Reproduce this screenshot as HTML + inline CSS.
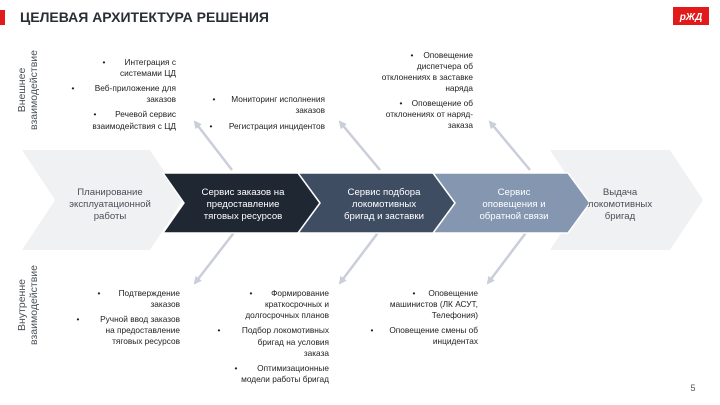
<!DOCTYPE html>
<html><head><meta charset="utf-8"><style>
html,body{margin:0;padding:0;background:#fff;}
svg{display:block;font-family:"Liberation Sans",sans-serif;}
</style></head><body>
<svg width="720" height="405" viewBox="0 0 720 405" xmlns="http://www.w3.org/2000/svg">
<defs>
<marker id="ah" markerWidth="8" markerHeight="8" refX="6" refY="4" orient="auto" markerUnits="userSpaceOnUse">
<path d="M0,0 L8,4 L0,8 Z" fill="#c9ced8"/>
</marker>
</defs>
<rect x="0" y="10" width="5" height="15" fill="#e21a1a"/>
<text x="20" y="22" font-size="14" font-weight="bold" fill="#2a2f36">ЦЕЛЕВАЯ АРХИТЕКТУРА РЕШЕНИЯ</text>
<rect x="673" y="7" width="36" height="18" fill="#e21a1a"/>
<text x="691" y="20" font-size="10" font-weight="bold" fill="#fff" text-anchor="middle" font-style="italic">рЖД</text>

<g stroke="#c9ced8" stroke-width="2.5" fill="none">
<line x1="232" y1="170" x2="195" y2="122" marker-end="url(#ah)"/>
<line x1="380" y1="170" x2="340" y2="122" marker-end="url(#ah)"/>
<line x1="530" y1="170" x2="490" y2="122" marker-end="url(#ah)"/>
<line x1="236" y1="230" x2="195" y2="283" marker-end="url(#ah)"/>
<line x1="380" y1="230" x2="340" y2="283" marker-end="url(#ah)"/>
<line x1="528" y1="230" x2="488" y2="283" marker-end="url(#ah)"/>
</g>

<polygon points="22,150 150,150 183,200 150,250 22,250 55,200" fill="#f0f1f3"/>
<polygon points="550,150 670,150 703,200 670,250 550,250 583,200" fill="#f0f1f3"/>
<polygon points="163,173 303,173 325,203 303,233 163,233 184,203" fill="#1f2733" stroke="#fff" stroke-width="1.5" stroke-linejoin="round"/>
<polygon points="298,173 435,173 457,203 435,233 298,233 320,203" fill="#3f4d63" stroke="#fff" stroke-width="1.5" stroke-linejoin="round"/>
<polygon points="433,173 568,173 590,203 568,233 433,233 455,203" fill="#8496b0" stroke="#fff" stroke-width="1.5" stroke-linejoin="round"/>

<g font-size="9.6" text-anchor="middle">
<g fill="#4a4f57">
<text x="110" y="195">Планирование</text>
<text x="110" y="207">эксплуатационной</text>
<text x="110" y="219">работы</text>
<text x="620" y="195">Выдача</text>
<text x="620" y="207">локомотивных</text>
<text x="620" y="219">бригад</text>
</g>
<g fill="#fff">
<text x="243" y="195">Сервис заказов на</text>
<text x="243" y="207">предоставление</text>
<text x="243" y="219">тяговых ресурсов</text>
<text x="384" y="195">Сервис подбора</text>
<text x="384" y="207">локомотивных</text>
<text x="384" y="219">бригад и заставки</text>
<text x="514" y="195">Сервис</text>
<text x="514" y="207">оповещения и</text>
<text x="514" y="219">обратной связи</text>
</g>
</g>

<g font-size="10.5" fill="#4a4f57" text-anchor="middle">
<text transform="translate(25,90) rotate(-90)">Внешнее</text>
<text transform="translate(37,90) rotate(-90)">взаимодействие</text>
<text transform="translate(25,305) rotate(-90)">Внутренне</text>
<text transform="translate(37,305) rotate(-90)">взаимодействие</text>
</g>

<g font-size="8.3" fill="#222" text-anchor="end">
<text x="176" y="65">Интеграция с</text>
<text x="176" y="76">системами ЦД</text>
<text x="176" y="91">Веб-приложение для</text>
<text x="176" y="102">заказов</text>
<text x="176" y="117">Речевой сервис</text>
<text x="176" y="129">взаимодействия с ЦД</text>
<text x="325" y="102">Мониторинг исполнения</text>
<text x="325" y="113">заказов</text>
<text x="325" y="129">Регистрация инцидентов</text>
<text x="473" y="58">Оповещение</text>
<text x="473" y="69">диспетчера об</text>
<text x="473" y="80">отклонениях в заставке</text>
<text x="473" y="91">наряда</text>
<text x="473" y="106">Оповещение об</text>
<text x="473" y="117">отклонениях от наряд-</text>
<text x="473" y="128">заказа</text>
<text x="180" y="296">Подтверждение</text>
<text x="180" y="307">заказов</text>
<text x="180" y="322">Ручной ввод заказов</text>
<text x="180" y="333">на предоставление</text>
<text x="180" y="344">тяговых ресурсов</text>
<text x="329" y="296">Формирование</text>
<text x="329" y="307">краткосрочных и</text>
<text x="329" y="318">долгосрочных планов</text>
<text x="329" y="333">Подбор локомотивных</text>
<text x="329" y="345">бригад на условия</text>
<text x="329" y="356">заказа</text>
<text x="329" y="371">Оптимизационные</text>
<text x="329" y="382">модели работы бригад</text>
<text x="478" y="296">Оповещение</text>
<text x="478" y="307">машинистов (ЛК АСУТ,</text>
<text x="478" y="318">Телефония)</text>
<text x="478" y="333">Оповещение смены об</text>
<text x="478" y="344">инцидентах</text>
</g>
<g font-size="8.3" fill="#222" text-anchor="middle">
<text x="104" y="65">•</text><text x="73" y="91">•</text><text x="95" y="117">•</text>
<text x="214" y="102">•</text><text x="211" y="129">•</text>
<text x="412" y="58">•</text><text x="401" y="106">•</text>
<text x="99" y="296">•</text><text x="78" y="322">•</text>
<text x="251" y="296">•</text><text x="219" y="333">•</text><text x="236" y="371">•</text>
<text x="414" y="296">•</text><text x="372" y="333">•</text>
</g>
<text x="693" y="391" font-size="9" fill="#555" text-anchor="middle">5</text>
</svg>
</body></html>
